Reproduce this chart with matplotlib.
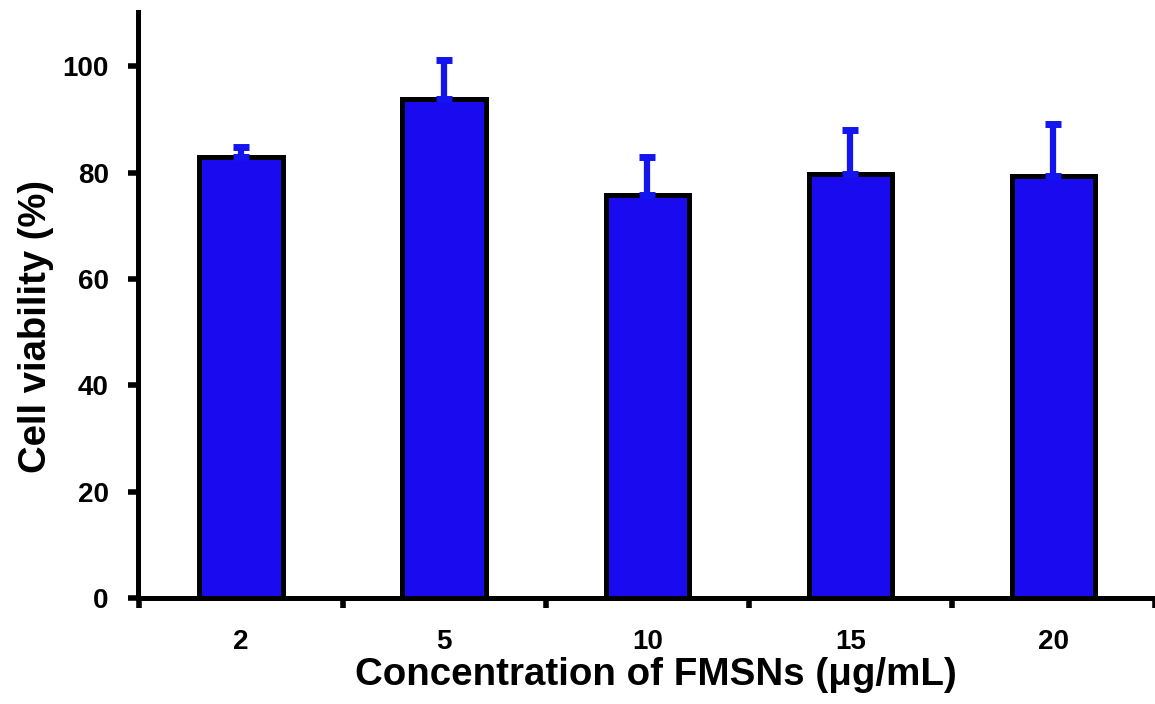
import numpy as np
import matplotlib
matplotlib.use("Agg")
import matplotlib.pyplot as plt

plt.rcParams['font.family'] = ['Liberation Sans', 'DejaVu Sans']
plt.rcParams['font.weight'] = 'bold'

# cell viability for each FMSN concentration
concentrations = ['2', '5', '10', '15', '20']
viability = [82.9, 93.8, 75.8, 79.7, 79.3]
viability_err = [1.9, 7.3, 7.1, 8.3, 9.8]
y_ticks = [0, 20, 40, 60, 80, 100]

bar_color = '#1a0af0'
err_color = '#1414ee'

fig = plt.figure(figsize=(11.55, 7.04), dpi=100)
ax = fig.add_axes([0.1195, 0.1506, 0.8805, 0.8324])

x = np.arange(len(concentrations))
ax.bar(x, viability, width=0.41, color=bar_color, edgecolor='black',
       linewidth=3.6, zorder=2)
ax.errorbar(x, viability, yerr=[np.zeros(len(x)), viability_err], fmt='none',
            ecolor=err_color, elinewidth=4.5, capsize=5.75, capthick=5,
            zorder=3)

ax.set_xlim(-0.507, 4.45)
ax.set_ylim(0, 110.2)

# ticks on the x axis sit between the groups
ax.set_xticks(np.arange(len(concentrations) + 1) - 0.5, minor=False)
ax.set_xticklabels([])
ax.set_xticks(x, minor=True)
ax.set_xticklabels(concentrations, minor=True)
ax.tick_params(axis='x', which='major', direction='out', length=7, width=4)
ax.tick_params(axis='x', which='minor', length=0, pad=22, labelsize=20)

ax.set_yticks(y_ticks)
ax.tick_params(axis='y', direction='out', length=7, width=4, pad=14,
               labelsize=20)
for lab in ax.get_xticklabels(minor=True) + ax.get_yticklabels():
    lab.set_fontweight('bold')

for side in ['top', 'right']:
    ax.spines[side].set_visible(False)
for side in ['left', 'bottom']:
    ax.spines[side].set_linewidth(3.6)

ax.set_xlabel('Concentration of FMSNs (μg/mL)', fontsize=27.7,
              fontweight='bold')
ax.xaxis.set_label_coords(0.509, -0.100)
ax.set_ylabel('Cell viability (%)', fontsize=27.5, fontweight='bold')
ax.yaxis.set_label_coords(-0.083, 0.464)

fig.savefig('out.png', dpi=100)
